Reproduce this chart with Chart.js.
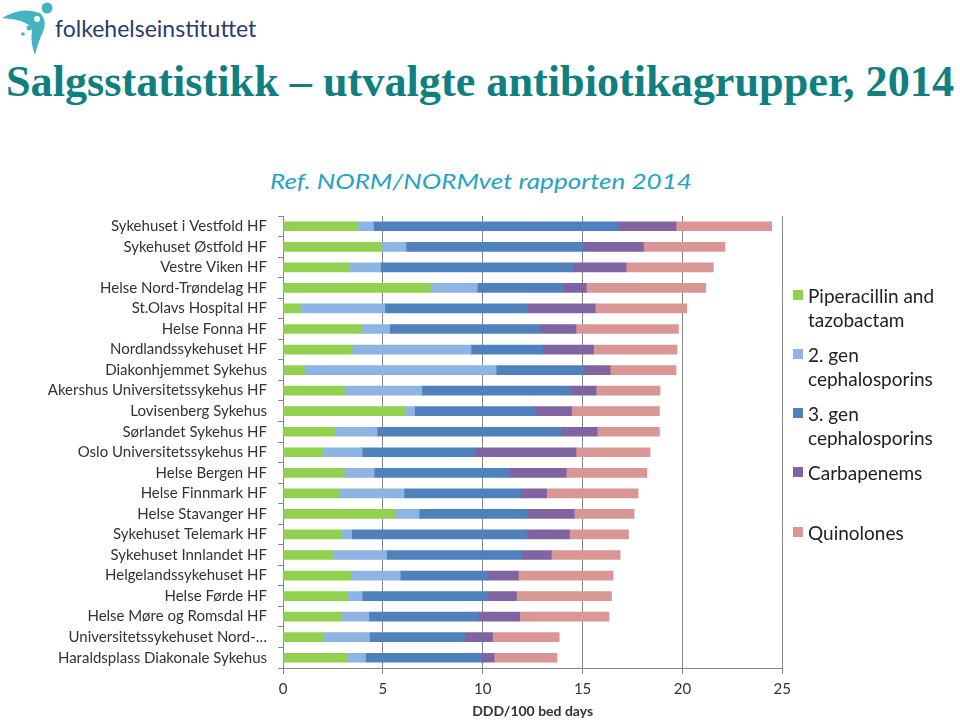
<!DOCTYPE html>
<html>
<head>
<meta charset="utf-8">
<script src="https://cdn.jsdelivr.net/npm/chart.js@4"></script>
<style>
  html, body { margin: 0; padding: 0; background: #fff; }
  #page { position: relative; width: 960px; height: 721px; overflow: hidden; font-family: Lato, sans-serif; }
  #logoText { position: absolute; left: 55px; top: 14px; font-size: 23px; color: #2a3b6e; white-space: nowrap; }
  #title { position: absolute; left: 6px; top: 59px; font-family: "Liberation Serif", serif; font-weight: bold;
           font-size: 45px; line-height: 45px; color: #0f7f7f; white-space: nowrap; transform-origin: 0 0; }
  #subtitle { position: absolute; left: 270px; top: 168px; font-style: italic; font-size: 22px; line-height: 26px;
              color: #25a3c6; white-space: nowrap; transform-origin: 0 0; }
  #chartBox { position: absolute; left: 0; top: 196px; width: 797px; height: 525px; }
  #legend { position: absolute; left: 793px; top: 284px; font-size: 19px; line-height: 23.5px; color: #222; }
  .item { position: relative; padding-left: 15px; }
  .swatch { position: absolute; left: 0; top: 6px; width: 10px; height: 10px; }
</style>
</head>
<body>
<div id="page">
  <svg width="60" height="60" style="position:absolute;left:0;top:0">
    <circle cx="47" cy="8" r="5.5" fill="#45b3c2"/>
    <path d="M2,18 Q22,6 40,13 Q49,22 41,36 Q37,46 35,55 Q30,42 32,31 Q31,20 2,18 Z" fill="#45b3c2"/>
    <circle cx="37" cy="19" r="3" fill="#fff"/>
    <circle cx="29" cy="28" r="2.5" fill="#45b3c2"/>
    <circle cx="23" cy="34" r="1.8" fill="#45b3c2"/>
  </svg>
  <div id="logoText">folkehelseinstituttet</div>
  <div id="title">Salgsstatistikk – utvalgte antibiotikagrupper, 2014</div>
  <div id="subtitle">Ref. NORM/NORMvet rapporten 2014</div>
  <div id="chartBox"><canvas id="chart"></canvas></div>
  <div id="legend"></div>
</div>
<script>
// Categories (top to bottom) and DDD/100 bed days per antibiotic group
const hospitals = [
  "Sykehuset i Vestfold HF", "Sykehuset Østfold HF", "Vestre Viken HF", "Helse Nord-Trøndelag HF",
  "St.Olavs Hospital HF", "Helse Fonna HF", "Nordlandssykehuset HF", "Diakonhjemmet Sykehus",
  "Akershus Universitetssykehus HF", "Lovisenberg Sykehus", "Sørlandet Sykehus HF", "Oslo Universitetssykehus HF",
  "Helse Bergen HF", "Helse Finnmark HF", "Helse Stavanger HF", "Sykehuset Telemark HF",
  "Sykehuset Innlandet HF", "Helgelandssykehuset HF", "Helse Førde HF", "Helse Møre og Romsdal HF",
  "Universitetssykehuset Nord-…", "Haraldsplass Diakonale Sykehus"
];
const pipTazo = [3.72, 4.90, 3.34, 7.43, 0.86, 3.96, 3.46, 1.07, 3.07, 6.11, 2.62, 2.00, 3.07, 2.79, 5.59, 2.90, 2.48, 3.39, 3.24, 2.90, 2.01, 3.20];
const cef2 = [0.81, 1.26, 1.54, 2.30, 4.24, 1.38, 5.95, 9.60, 3.88, 0.48, 2.09, 1.96, 1.49, 3.27, 1.22, 0.54, 2.70, 2.48, 0.72, 1.40, 2.32, 0.93];
const cef3 = [12.24, 8.87, 9.62, 4.27, 7.13, 7.48, 3.61, 4.36, 7.42, 6.03, 9.22, 5.67, 6.75, 5.85, 5.44, 8.79, 6.78, 4.36, 6.26, 5.48, 4.76, 5.80];
const carbapenems = [2.91, 3.02, 2.68, 1.18, 3.40, 1.85, 2.53, 1.35, 1.31, 1.83, 1.80, 5.04, 2.87, 1.29, 2.33, 2.12, 1.47, 1.55, 1.47, 2.07, 1.40, 0.64];
const quinolones = [4.79, 4.08, 4.37, 5.99, 4.59, 5.13, 4.18, 3.30, 3.20, 4.40, 3.12, 3.71, 4.04, 4.58, 3.00, 2.95, 3.45, 4.75, 4.76, 4.47, 3.34, 3.15];

const groupNames = [["Piperacillin and", "tazobactam"], ["2. gen", "cephalosporins"], ["3. gen", "cephalosporins"], ["Carbapenems"], ["Quinolones"]];
const groupColors = ["#92d050", "#8eb4e3", "#4f81bd", "#8064a2", "#d99694"];
const groupValues = [pipTazo, cef2, cef3, carbapenems, quinolones];

// stretch a text block to the width it has in the picture
function fitWidth(id, target) {
  const el = document.getElementById(id);
  const w = el.getBoundingClientRect().width;
  el.style.transform = `scaleX(${target / w})`;
}
fitWidth("title", 948);
fitWidth("subtitle", 422);

// legend on the right, with wrapped names
const legend = document.getElementById("legend");
const legendGaps = [12, 12, 12, 36, 0];
groupNames.forEach((lines, i) => {
  const div = document.createElement("div");
  div.className = "item";
  div.style.marginBottom = legendGaps[i] + "px";
  div.innerHTML = `<span class="swatch" style="background:${groupColors[i]}"></span>` + lines.join("<br>");
  legend.appendChild(div);
});

const axisColor = "#868686";
const textColor = "#333";

new Chart(document.getElementById("chart"), {
  type: "bar",
  data: {
    labels: hospitals,
    datasets: groupValues.map((values, i) => ({
      label: groupNames[i].join(" "),
      data: values,
      backgroundColor: groupColors[i],
      barThickness: 9,
    })),
  },
  options: {
    indexAxis: "y",
    responsive: true,
    maintainAspectRatio: false,
    animation: false,
    layout: { padding: { top: 3, right: 0, left: 0, bottom: 0 } },
    plugins: {
      legend: { display: false },
      tooltip: { enabled: false },
    },
    scales: {
      x: {
        stacked: true,
        min: 0,
        max: 25,
        ticks: { stepSize: 5, color: textColor, font: { family: "Lato", size: 15 }, padding: 6 },
        grid: { color: axisColor, tickLength: 6, tickColor: axisColor },
        border: { color: axisColor },
        title: {
          display: true,
          text: "DDD/100 bed days",
          color: textColor,
          font: { family: "Lato", size: 14, weight: "bold" },
          padding: { top: 2, bottom: 1 },
        },
        afterFit: (scale) => { scale.height = 53; },
      },
      y: {
        stacked: true,
        ticks: { color: textColor, font: { family: "Lato", size: 15 }, padding: 11, autoSkip: false },
        grid: { drawOnChartArea: false, offset: true, tickLength: 5, color: axisColor },
        border: { color: axisColor },
        afterFit: (scale) => { scale.width = 283; },
      },
    },
  },
});
</script>
</body>
</html>
